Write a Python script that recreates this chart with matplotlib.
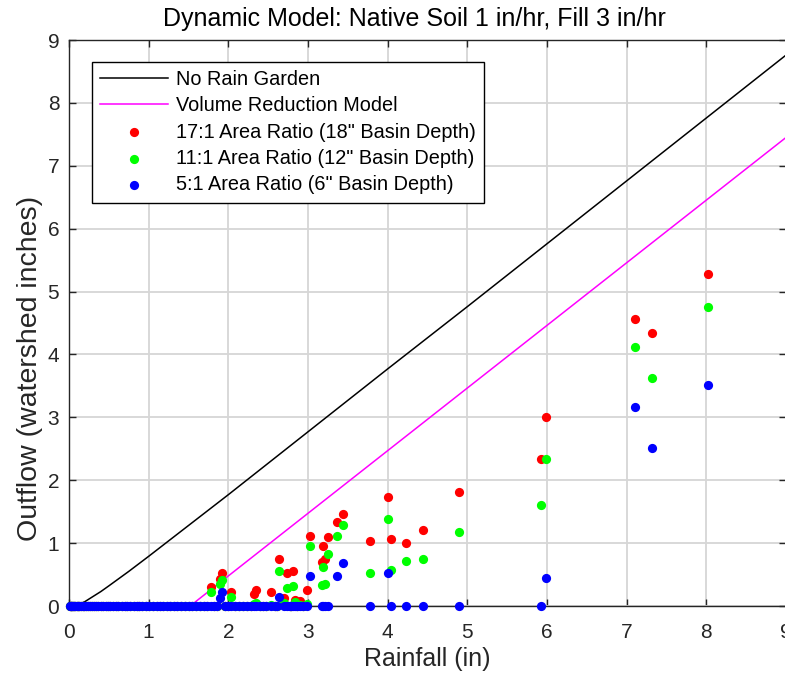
import matplotlib
matplotlib.use("Agg")
import matplotlib.pyplot as plt
import numpy as np

plt.rcParams['font.family'] = ['Liberation Sans', 'DejaVu Sans']

# Runoff with no rain garden (watershed inches vs rainfall)
no_garden_rain = [0, 0.05, 0.1, 0.2, 0.3, 0.4, 0.5, 0.75, 1.0, 1.5, 2.0, 3.0, 4.0, 5.0, 6.0, 7.0, 8.0, 9.0]
no_garden_out = [0, 0, 0.01, 0.07, 0.15, 0.23, 0.32, 0.55, 0.79, 1.28, 1.77, 2.77, 3.77, 4.76, 5.76, 6.76, 7.76, 8.76]

# Volume reduction model
vrm_rain = [0, 1.52, 9.0]
vrm_out = [0, 0, 7.45]

# Storms that produced no outflow in any configuration
dry_rain = [0.01, 0.02, 0.03, 0.04, 0.05, 0.06, 0.08, 0.10, 0.11, 0.13, 0.15, 0.17, 0.19,
            0.21, 0.24, 0.26, 0.29, 0.31, 0.34, 0.37, 0.40, 0.43, 0.46, 0.49, 0.52, 0.55,
            0.59, 0.62, 0.66, 0.70, 0.73, 0.77, 0.81, 0.85, 0.88, 0.92, 0.97, 1.01, 1.05,
            1.10, 1.14, 1.18, 1.23, 1.27, 1.32, 1.36, 1.41, 1.46, 1.50, 1.55, 1.60, 1.64,
            1.69, 1.73, 1.82, 1.86, 1.96, 2.00, 2.08, 2.13, 2.18, 2.24, 2.28, 2.40, 2.44,
            2.47, 2.58, 2.61, 2.77, 2.79, 2.86, 2.94]

# Storms with outflow from at least one configuration
storm_rain = [1.78, 1.90, 1.92, 2.03, 2.32, 2.35, 2.53, 2.64, 2.70, 2.74, 2.81, 2.84, 2.90,
              2.99, 3.03, 3.17, 3.19, 3.21, 3.25, 3.36, 3.44, 3.78, 4.01, 4.04, 4.23, 4.44,
              4.89, 5.93, 5.99, 7.11, 7.32, 8.02]
out_17to1 = [0.30, 0.43, 0.52, 0.23, 0.19, 0.26, 0.22, 0.74, 0.13, 0.53, 0.56, 0.09, 0.08,
             0.25, 1.11, 0.70, 0.95, 0.74, 1.10, 1.34, 1.47, 1.03, 1.73, 1.06, 1.00, 1.21,
             1.81, 2.34, 3.00, 4.57, 4.34, 5.28]
out_11to1 = [0.23, 0.35, 0.41, 0.14, 0.03, 0.05, 0.02, 0.56, 0.04, 0.29, 0.32, 0.07, 0.01,
             0.03, 0.95, 0.33, 0.62, 0.35, 0.82, 1.11, 1.29, 0.53, 1.39, 0.58, 0.72, 0.74,
             1.17, 1.61, 2.34, 4.12, 3.63, 4.75]
out_5to1 = [0, 0.13, 0.22, 0, 0, 0, 0, 0.14, 0, 0, 0, 0, 0,
            0, 0.48, 0, 0, 0, 0, 0.48, 0.69, 0, 0.53, 0, 0, 0,
            0, 0, 0.45, 3.16, 2.52, 3.52]

x_ticks = list(range(0, 10))
y_ticks = list(range(0, 10))

fig = plt.figure(figsize=(7.85, 6.74), dpi=100)
ax = fig.add_axes([69 / 785, 1 - 606 / 674, 717 / 785, 566 / 674])

ax.plot(no_garden_rain, no_garden_out, color='black', lw=1.1, label='No Rain Garden', zorder=3)
ax.plot(vrm_rain, vrm_out, color=(1, 0, 1), lw=1.1, label='Volume Reduction Model', zorder=3)

series = [
    (out_17to1, (1, 0, 0), '17:1 Area Ratio (18" Basin Depth)'),
    (out_11to1, (0, 1, 0), '11:1 Area Ratio (12" Basin Depth)'),
    (out_5to1, (0, 0, 1), '5:1 Area Ratio (6" Basin Depth)'),
]
for i, (vals, col, lab) in enumerate(series):
    xs = list(dry_rain) + list(storm_rain)
    ys = [0.0] * len(dry_rain) + list(vals)
    ax.scatter(xs, ys, s=44, color=col, linewidths=0, label=lab, zorder=4 + i, clip_on=False)

ax.set_xlim(0, 9)
ax.set_ylim(0, 9)
ax.set_xticks(x_ticks)
ax.set_yticks(y_ticks)
ax.set_axisbelow(True)
ax.grid(True, color='#d6d6d6', lw=1.3)
ax.tick_params(direction='in', top=True, right=True, length=5, width=1.0,
               color='#262626', labelcolor='#262626', labelsize=15)
ax.tick_params(axis='x', pad=12)
ax.tick_params(axis='y', pad=7)
for sp in ax.spines.values():
    sp.set_color('#262626')
    sp.set_linewidth(1.0)

ax.set_xlabel('Rainfall (in)', fontsize=18, color='#262626')
ax.xaxis.set_label_coords(0.5, -0.073)
ax.set_ylabel('Outflow (watershed inches)', fontsize=20.5, color='#262626')
ax.yaxis.set_label_coords(-0.036, 0.42)
fig.text(414 / 785, 1 - 19 / 674, 'Dynamic Model: Native Soil 1 in/hr, Fill 3 in/hr',
         fontsize=18, color='black', ha='center', va='center')

leg = ax.legend(loc='upper left', bbox_to_anchor=(0.032, 0.962), borderaxespad=0,
                fontsize=14.3, frameon=True, fancybox=False, framealpha=1,
                edgecolor='black', handlelength=3.4, handletextpad=0.4,
                labelspacing=0.37, borderpad=0.42, markerscale=1.0, scatterpoints=1)
leg.get_frame().set_linewidth(1.0)

fig.savefig('out.png', dpi=100)
